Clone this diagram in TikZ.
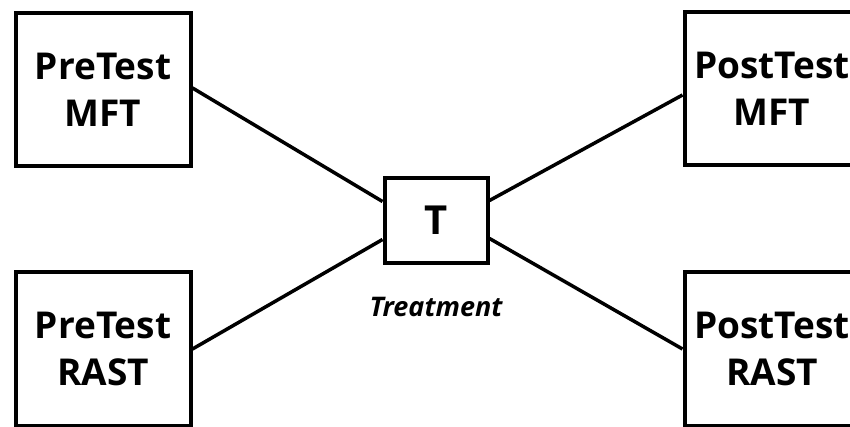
\documentclass[tikz,border=0pt]{standalone}
\usepackage{fontspec}
\setmainfont{Open Sans}
\begin{document}
\begin{tikzpicture}[x=1pt,y=-1pt,
  box/.style={draw=black,line width=4pt,minimum width=175pt,minimum height=153pt,inner sep=0pt,align=center,font=\fontsize{37}{47}\selectfont\bfseries},
  tbox/.style={draw=black,line width=4pt,minimum width=103pt,minimum height=85pt,inner sep=0pt,font=\fontsize{40}{44}\selectfont\bfseries},
  link/.style={line width=3.5pt}]
\useasboundingbox (0,0) rectangle (850,427);
\fill[white] (0,0) rectangle (850,427);
\node[box] (pm) at (103,90) {PreTest\\MFT};
\node[box] (pr) at (103,349) {PreTest\\RAST};
\node[box] (qm) at (772,89) {PostTest\\MFT};
\node[box] (qr) at (772,349) {PostTest\\RAST};
\node[tbox] (t) at (436,220.5) {T};
\node[font=\fontsize{27}{30}\selectfont\bfseries\itshape] (lbl) at (436,307) {Treatment};
\coordinate (tlu) at ([yshift=19pt]t.west);
\coordinate (tld) at ([yshift=-19pt]t.west);
\coordinate (tru) at ([yshift=20pt]t.east);
\coordinate (trd) at ([yshift=-18pt]t.east);
\coordinate (pme) at ([yshift=2pt]pm.east);
\coordinate (qmw) at ([yshift=-6pt]qm.west);
\draw[link] (pme) -- (tlu);
\draw[link] (pr.east) -- (tld);
\draw[link] (tru) -- (qmw);
\draw[link] (trd) -- (qr.west);
\end{tikzpicture}
\end{document}
